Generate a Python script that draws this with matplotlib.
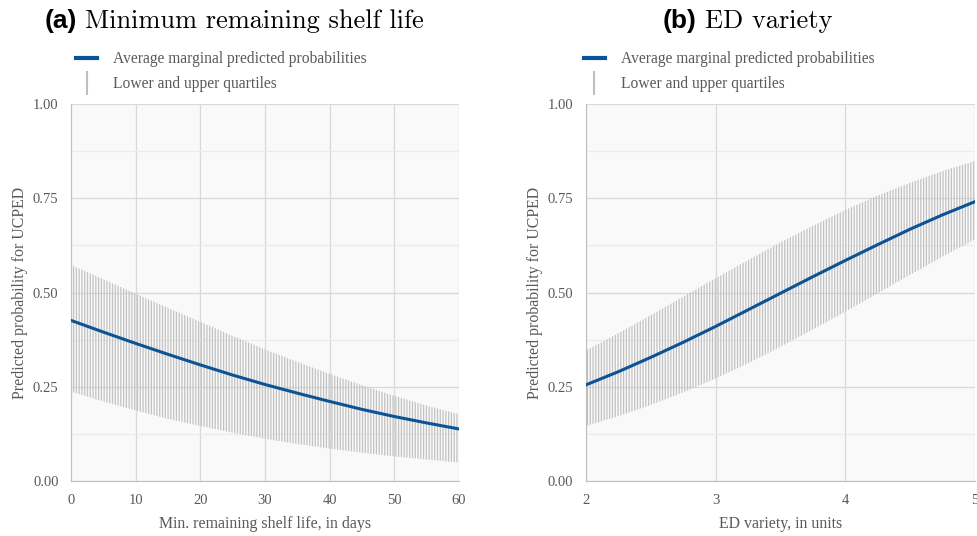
import matplotlib
matplotlib.use("Agg")
import matplotlib.pyplot as plt
from matplotlib.lines import Line2D

# (a) minimum remaining shelf life, every 5 days
shelf_days = [0, 5, 10, 15, 20, 25, 30, 35, 40, 45, 50, 55, 60]
shelf_mean = [0.426, 0.395, 0.365, 0.336, 0.308, 0.281, 0.256, 0.233, 0.211, 0.190, 0.171, 0.154, 0.138]
shelf_upper = [0.573, 0.535, 0.497, 0.459, 0.422, 0.385, 0.349, 0.316, 0.284, 0.254, 0.226, 0.200, 0.177]
shelf_lower = [0.237, 0.211, 0.187, 0.165, 0.146, 0.128, 0.112, 0.098, 0.086, 0.075, 0.065, 0.057, 0.049]

# (b) ED variety, every 0.25 units
ed_units = [2.0, 2.25, 2.5, 2.75, 3.0, 3.25, 3.5, 3.75, 4.0, 4.25, 4.5, 4.75, 5.0]
ed_mean = [0.255, 0.290, 0.328, 0.368, 0.410, 0.454, 0.498, 0.542, 0.585, 0.627, 0.668, 0.706, 0.741]
ed_upper = [0.346, 0.392, 0.440, 0.489, 0.538, 0.586, 0.633, 0.677, 0.719, 0.757, 0.791, 0.822, 0.849]
ed_lower = [0.146, 0.172, 0.202, 0.235, 0.272, 0.312, 0.356, 0.402, 0.449, 0.498, 0.547, 0.595, 0.641]

y_ticks = [0, 0.25, 0.5, 0.75, 1.0]
y_ticklabels = ["0.00", "0.25", "0.50", "0.75", "1.00"]
legend_labels = ["Average marginal predicted probabilities", "Lower and upper quartiles"]

BLUE = "#0b5394"
GREY_TXT = "#595959"
SERIF = "Liberation Serif"

plt.rcParams["hatch.linewidth"] = 0.9

fig = plt.figure(figsize=(9.78, 5.36), dpi=100)


def panel(left, right, x, mean, low, high, xlim, xticks, xlabel, leg_x, tag, title, tag_right):
    ax = fig.add_axes([left / 978, 1 - 481 / 536, (right - left) / 978, (481 - 104) / 536])
    ax.set_facecolor("#f9f9f9")

    # quartile range drawn as a band of thin vertical strokes
    ax.fill_between(x, low, high, facecolor="none", edgecolor="#c2c2c2",
                    linewidth=0, hatch="||||||", zorder=2)
    ax.plot(x, mean, color=BLUE, lw=2.2, zorder=3)

    ax.set_xlim(*xlim)
    ax.set_ylim(0, 1)
    ax.set_xticks(xticks)
    ax.set_yticks(y_ticks)
    ax.set_yticklabels(y_ticklabels)
    ax.set_yticks([0.125, 0.375, 0.625, 0.875], minor=True)
    ax.grid(True, which="major", color="#d9d9d9", lw=0.9, zorder=0)
    ax.grid(True, which="minor", axis="y", color="#ebebeb", lw=0.9, zorder=0)
    ax.set_axisbelow(True)
    for s in ["top", "right"]:
        ax.spines[s].set_visible(False)
    for s in ["left", "bottom"]:
        ax.spines[s].set_color("#bfbfbf")
    ax.tick_params(axis="both", which="both", length=0, labelcolor=GREY_TXT, labelsize=10.5)
    ax.tick_params(axis="y", pad=9)
    ax.tick_params(axis="x", pad=9)
    for t in ax.get_xticklabels() + ax.get_yticklabels():
        t.set_fontfamily(SERIF)

    ax.set_xlabel(xlabel, fontsize=11.4, color=GREY_TXT, fontfamily=SERIF)
    ax.set_ylabel("Predicted probability for UCPED", fontsize=11.4, color=GREY_TXT, fontfamily=SERIF)
    ax.xaxis.set_label_coords(0.5, -0.093)
    ax.yaxis.set_label_coords(-0.110, 0.5)

    handles = [Line2D([], [], color=BLUE, lw=3),
               Line2D([], [], color="#bfbfbf", marker="|", ls="none", markersize=17, markeredgewidth=1.5)]
    ax.legend(handles, legend_labels,
              loc="upper left", bbox_to_anchor=(leg_x / 978, 1 - 51 / 536), bbox_transform=fig.transFigure,
              frameon=False, handlelength=1.35, handletextpad=1.0, labelspacing=0.6,
              borderpad=0, borderaxespad=0, prop={"family": SERIF, "size": 11.2}, labelcolor=GREY_TXT)

    fig.text(tag_right / 978, 1 - 28 / 536, tag, ha="right", va="baseline",
             fontsize=19, fontweight="bold", fontfamily="Liberation Sans")
    fig.text((tag_right + 8) / 978, 1 - 28 / 536, title, ha="left", va="baseline",
             fontsize=19, fontfamily="cmr10")
    return ax


panel(71, 459, shelf_days, shelf_mean, shelf_lower, shelf_upper, (0, 60), [0, 10, 20, 30, 40, 50, 60],
      "Min. remaining shelf life, in days", 76, "(a)", "Minimum remaining shelf life", 77)
panel(586, 975, ed_units, ed_mean, ed_lower, ed_upper, (2, 5), [2, 3, 4, 5],
      "ED variety, in units", 584, "(b)", "ED variety", 697)

plt.savefig("out.png", dpi=100)
